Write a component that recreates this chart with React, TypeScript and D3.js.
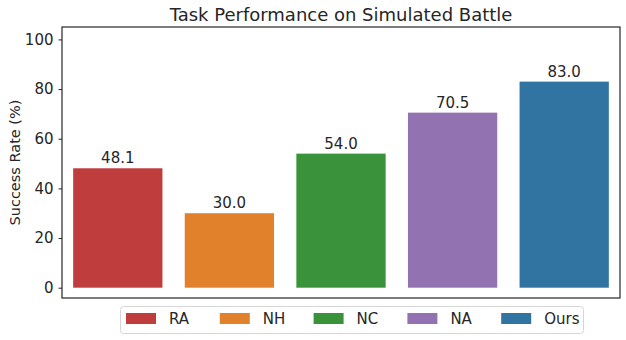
import React, { useEffect, useRef } from "react";
import * as d3 from "d3";

const methods = ["RA", "NH", "NC", "NA", "Ours"];
const successRates = [48.1, 30.0, 54.0, 70.5, 83.0];
const barColors = ["#c03d3e", "#e1812c", "#3a923a", "#9372b2", "#3274a1"];
const yTicks = [0, 20, 40, 60, 80, 100];

const App = () => {
  const ref = useRef<SVGSVGElement>(null);

  useEffect(() => {
    const width = 626;
    const height = 340;
    const margin = { top: 27, right: 6, bottom: 42, left: 62 };
    const innerW = width - margin.left - margin.right;
    const innerH = height - margin.top - margin.bottom;
    const font = "DejaVu Sans, sans-serif";

    const root = d3.select(ref.current);
    root.selectAll("*").remove();
    root.append("rect").attr("width", width).attr("height", height).attr("fill", "#fff");

    const svg = root
      .append("g")
      .attr("transform", "translate(" + margin.left + "," + margin.top + ")");

    const x = d3.scaleBand().domain(methods).range([0, innerW]).paddingInner(0.2).paddingOuter(0.1);
    const y = d3.scaleLinear().domain([-4.15, 105]).range([innerH, 0]);

    // bars
    svg
      .selectAll(".bar")
      .data(methods)
      .enter()
      .append("rect")
      .attr("x", (d) => x(d)!)
      .attr("width", x.bandwidth())
      .attr("y", (d, i) => y(successRates[i]))
      .attr("height", (d, i) => y(0) - y(successRates[i]))
      .attr("fill", (d, i) => barColors[i]);

    // value labels
    svg
      .selectAll(".val")
      .data(methods)
      .enter()
      .append("text")
      .attr("x", (d) => x(d)! + x.bandwidth() / 2)
      .attr("y", (d, i) => y(successRates[i]) - 5)
      .attr("text-anchor", "middle")
      .style("font-family", font)
      .style("font-size", "15px")
      .attr("fill", "#262626")
      .text((d, i) => successRates[i].toFixed(1));

    // y axis
    const yAxis = d3.axisLeft(y).tickValues(yTicks).tickSize(3.5).tickPadding(5);
    const ya = svg.append("g").call(yAxis);
    ya.select(".domain").remove();
    ya.selectAll("line").attr("stroke", "#262626").attr("stroke-width", 1);
    ya.selectAll("text")
      .style("font-family", font)
      .style("font-size", "15px")
      .attr("fill", "#262626");

    // frame
    svg
      .append("rect")
      .attr("width", innerW)
      .attr("height", innerH)
      .attr("fill", "none")
      .attr("stroke", "#262626")
      .attr("stroke-width", 1.2);

    // title
    root
      .append("text")
      .attr("x", margin.left + innerW / 2)
      .attr("y", 21)
      .attr("text-anchor", "middle")
      .style("font-family", font)
      .style("font-size", "18px")
      .attr("fill", "#262626")
      .text("Task Performance on Simulated Battle");

    // y label
    root
      .append("text")
      .attr("transform", "translate(20," + (margin.top + innerH / 2) + ") rotate(-90)")
      .attr("text-anchor", "middle")
      .style("font-family", font)
      .style("font-size", "14.5px")
      .attr("fill", "#262626")
      .text("Success Rate (%)");

    // legend
    const legend = root.append("g").attr("transform", "translate(120.5,306.5)");
    legend
      .append("rect")
      .attr("width", 463)
      .attr("height", 27)
      .attr("rx", 3)
      .attr("fill", "#fff")
      .attr("stroke", "#d6d6d6")
      .attr("stroke-width", 1);
    const item = legend
      .selectAll(".item")
      .data(methods)
      .enter()
      .append("g")
      .attr("transform", (d, i) => "translate(" + (5.5 + i * 93.8) + ",0)");
    item
      .append("rect")
      .attr("y", 6.5)
      .attr("width", 30)
      .attr("height", 11)
      .attr("fill", (d, i) => barColors[i]);
    item
      .append("text")
      .attr("x", 43)
      .attr("y", 17.8)
      .style("font-family", font)
      .style("font-size", "15px")
      .attr("fill", "#262626")
      .text((d) => d);
  }, []);

  return (
    <svg
      ref={ref}
      width={626}
      height={340}
      style={{ position: "absolute", left: 0, top: 0, display: "block" }}
    />
  );
};

export default App;
